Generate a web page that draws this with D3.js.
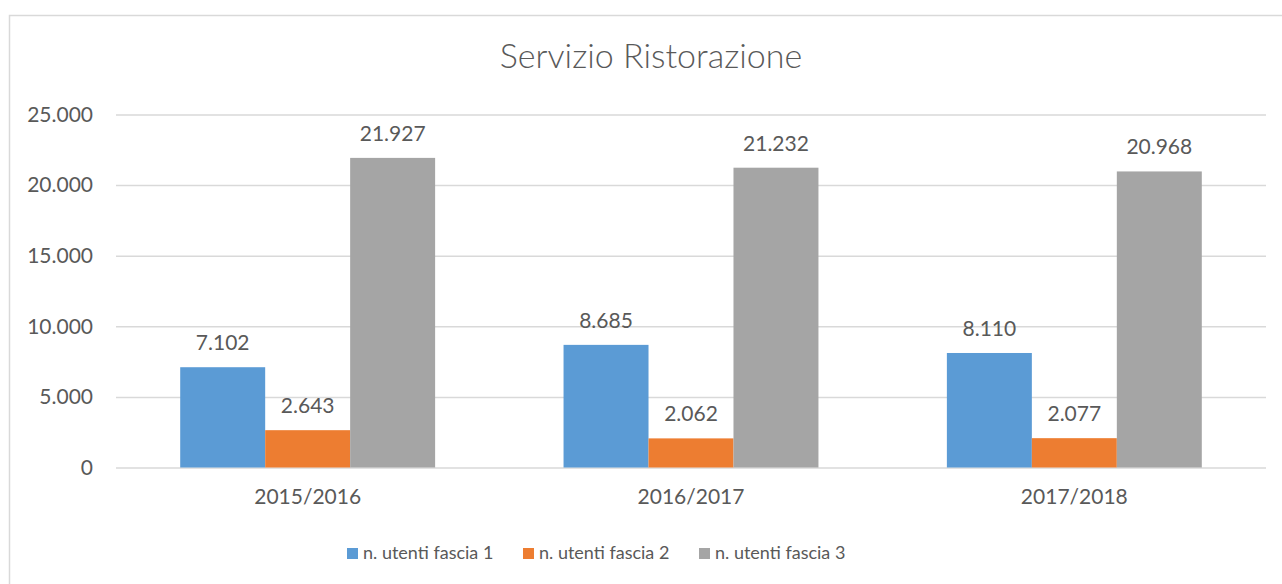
<!DOCTYPE html>
<html><head><meta charset="utf-8">
<script src="https://cdn.jsdelivr.net/npm/d3@7"></script>
<style>body{margin:0;background:#fff}svg{display:block}text{font-family:Lato,"Open Sans",sans-serif;fill:#595959}</style>
</head><body><svg id="c" width="1282" height="584"></svg>
<script>
const categories = ["2015/2016","2016/2017","2017/2018"];
const seriesNames = ["n. utenti fascia 1","n. utenti fascia 2","n. utenti fascia 3"];
const fascia1 = [7102, 8685, 8110];
const fascia2 = [2643, 2062, 2077];
const fascia3 = [21927, 21232, 20968];
const yTicks = [0, 5000, 10000, 15000, 20000, 25000];
const colors = ["#5B9BD5","#ED7D31","#A5A5A5"];
const series = [fascia1, fascia2, fascia3];

const svg = d3.select("#c");
const fmt = v => d3.format(",")(v).replace(/,/g, ".");
svg.append("rect").attr("x",9.5).attr("y",15.5).attr("width",1300).attr("height",600)
  .attr("fill","none").attr("stroke","#D9D9D9").attr("stroke-width",1.5);

const L=116, R=1266, T=114.5, B=467.5;
const x = d3.scaleBand().domain(categories).range([L,R]).paddingInner(0.335).paddingOuter(0.1675);
const xs = d3.scaleBand().domain(d3.range(3)).range([0, x.bandwidth()]);
const y = d3.scaleLinear().domain([0,25000]).range([B,T]);

svg.append("text").attr("x",651).attr("y",68).attr("text-anchor","middle")
  .style("font-size","34px").style("font-weight","300").text("Servizio Ristorazione");

const yAxis = svg.append("g").attr("transform",`translate(${L},0)`)
  .call(d3.axisLeft(y).tickValues(yTicks).tickSize(-(R-L)).tickFormat(fmt).tickPadding(23));
yAxis.select(".domain").remove();
yAxis.selectAll(".tick line").attr("stroke","#D9D9D9").attr("stroke-width",1.5);
yAxis.selectAll(".tick text").style("font-size","21px").attr("fill","#595959");

const g = svg.append("g");
categories.forEach((c,i)=>{
  series.forEach((s,j)=>{
    const bx = x(c)+xs(j);
    g.append("rect").attr("x",bx).attr("y",y(s[i])).attr("width",xs.bandwidth())
      .attr("height",y(0)-y(s[i])).attr("fill",colors[j]);
    g.append("text").attr("x",bx+xs.bandwidth()/2).attr("y",y(s[i])-17)
      .attr("text-anchor","middle").style("font-size","21px").text(fmt(s[i]));
  });
});

const xAxis = svg.append("g").attr("transform",`translate(0,${B})`)
  .call(d3.axisBottom(x).tickSize(0).tickPadding(22));
xAxis.select(".domain").remove();
xAxis.selectAll(".tick text").style("font-size","21px").attr("fill","#595959");

const legX = [347, 523, 699];
seriesNames.forEach((n,j)=>{
  svg.append("rect").attr("x",legX[j]).attr("y",548).attr("width",11).attr("height",11).attr("fill",colors[j]);
  svg.append("text").attr("x",legX[j]+16).attr("y",559).style("font-size","18px").text(n);
});
</script></body></html>
